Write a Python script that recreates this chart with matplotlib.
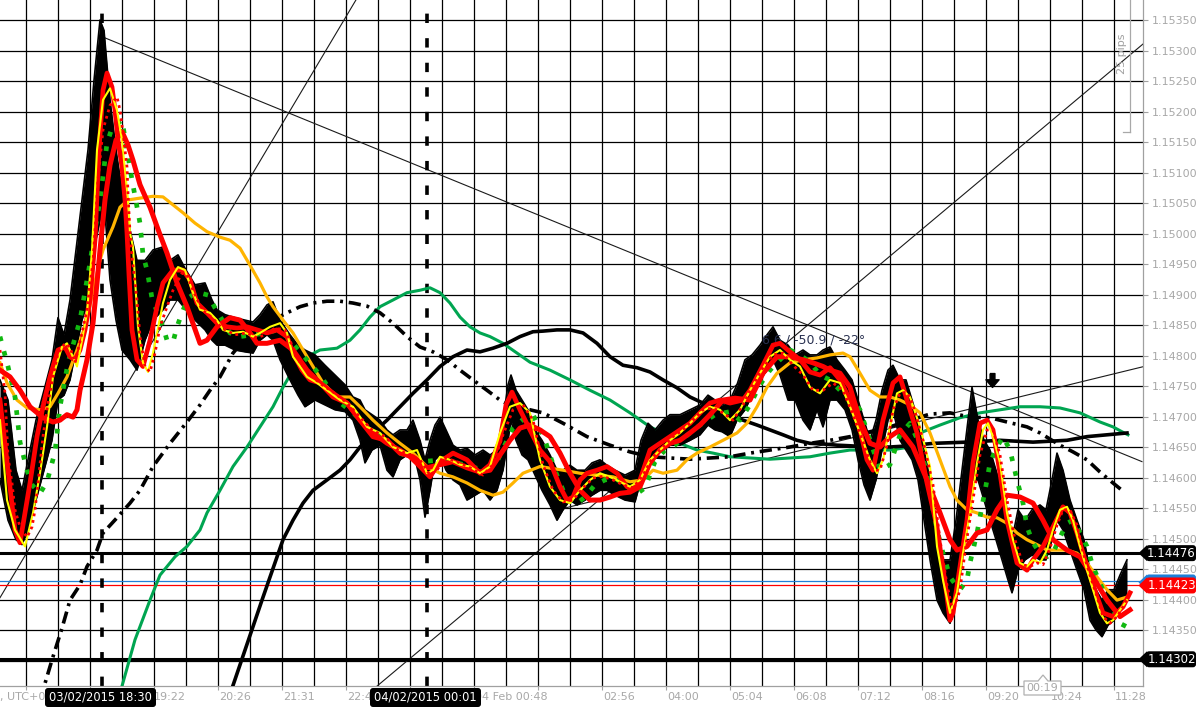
import matplotlib
matplotlib.use("Agg")
import matplotlib.pyplot as plt
from matplotlib.patches import FancyBboxPatch, Polygon
from matplotlib.lines import Line2D
from matplotlib.path import Path
from matplotlib.transforms import IdentityTransform, blended_transform_factory, Bbox

# ---------------- data (time = M1 bar index from the left edge, price = EURUSD) -------------
PRICE_BARS = [  # (t, high, low)
    (0, 1.14760, 1.14596), (8, 1.14727, 1.14530), (16, 1.14612, 1.14498), (22, 1.14579, 1.14490),
    (28, 1.14629, 1.14514), (36, 1.14694, 1.14563), (44, 1.14743, 1.14612), (52, 1.14793, 1.14661),
    (58, 1.14862, 1.14727), (64, 1.14834, 1.14735), (70, 1.14891, 1.14760), (76, 1.14973, 1.14809),
    (82, 1.15055, 1.14858), (88, 1.15137, 1.14891), (94, 1.15251, 1.14973), (100, 1.15350, 1.15022),
    (104, 1.15333, 1.15055), (110, 1.15219, 1.14924), (116, 1.15137, 1.14858), (122, 1.15071, 1.14809),
    (130, 1.15006, 1.14793), (137, 1.14956, 1.14776), (145, 1.14956, 1.14825), (153, 1.14973, 1.14858),
    (163, 1.14978, 1.14875), (170, 1.14956, 1.14891), (178, 1.14965, 1.14891), (186, 1.14940, 1.14875),
    (195, 1.14916, 1.14858), (205, 1.14919, 1.14842), (212, 1.14891, 1.14825), (217, 1.14875, 1.14817),
    (225, 1.14867, 1.14817), (235, 1.14862, 1.14809), (245, 1.14858, 1.14806), (253, 1.14855, 1.14804),
    (260, 1.14867, 1.14825), (267, 1.14883, 1.14834), (273, 1.14888, 1.14825), (280, 1.14858, 1.14793),
    (290, 1.14834, 1.14760), (298, 1.14817, 1.14735), (305, 1.14809, 1.14716), (315, 1.14801, 1.14727),
    (325, 1.14784, 1.14719), (335, 1.14768, 1.14711), (345, 1.14752, 1.14708), (353, 1.14732, 1.14694),
    (360, 1.14727, 1.14661), (365, 1.14711, 1.14624), (372, 1.14703, 1.14645), (380, 1.14694, 1.14653),
    (387, 1.14678, 1.14612), (393, 1.14670, 1.14601), (400, 1.14678, 1.14629), (407, 1.14678, 1.14637),
    (413, 1.14694, 1.14645), (420, 1.14661, 1.14596), (425, 1.14629, 1.14535), (430, 1.14661, 1.14579),
    (435, 1.14686, 1.14629), (440, 1.14699, 1.14637), (446, 1.14678, 1.14612), (453, 1.14653, 1.14596),
    (460, 1.14645, 1.14588), (467, 1.14648, 1.14563), (475, 1.14637, 1.14571), (483, 1.14645, 1.14579),
    (490, 1.14637, 1.14563), (497, 1.14645, 1.14579), (503, 1.14694, 1.14612), (508, 1.14752, 1.14661),
    (511, 1.14768, 1.14694), (516, 1.14743, 1.14661), (522, 1.14727, 1.14637), (528, 1.14711, 1.14629),
    (535, 1.14678, 1.14604), (542, 1.14661, 1.14579), (550, 1.14637, 1.14555), (557, 1.14612, 1.14530),
    (563, 1.14612, 1.14547), (570, 1.14620, 1.14563), (577, 1.14612, 1.14555), (585, 1.14612, 1.14563),
    (592, 1.14624, 1.14571), (600, 1.14629, 1.14579), (607, 1.14620, 1.14579), (615, 1.14612, 1.14571),
    (625, 1.14604, 1.14563), (635, 1.14612, 1.14560), (641, 1.14661, 1.14596), (648, 1.14689, 1.14629),
    (655, 1.14678, 1.14637), (663, 1.14694, 1.14645), (670, 1.14703, 1.14653), (680, 1.14703, 1.14653),
    (690, 1.14711, 1.14661), (700, 1.14719, 1.14670), (708, 1.14735, 1.14686), (715, 1.14727, 1.14678),
    (722, 1.14719, 1.14675), (730, 1.14727, 1.14667), (737, 1.14752, 1.14694), (745, 1.14793, 1.14711),
    (752, 1.14801, 1.14735), (760, 1.14817, 1.14760), (767, 1.14834, 1.14776), (773, 1.14847, 1.14793),
    (780, 1.14825, 1.14768), (788, 1.14817, 1.14727), (795, 1.14801, 1.14727), (803, 1.14809, 1.14694),
    (810, 1.14801, 1.14678), (817, 1.14801, 1.14711), (823, 1.14809, 1.14683), (830, 1.14814, 1.14727),
    (837, 1.14793, 1.14727), (845, 1.14776, 1.14711), (852, 1.14760, 1.14678), (858, 1.14727, 1.14629),
    (864, 1.14694, 1.14588), (870, 1.14661, 1.14563), (876, 1.14694, 1.14596), (882, 1.14743, 1.14645),
    (888, 1.14776, 1.14694), (893, 1.14784, 1.14711), (900, 1.14760, 1.14661), (906, 1.14760, 1.14645),
    (912, 1.14727, 1.14629), (918, 1.14694, 1.14596), (924, 1.14645, 1.14530), (930, 1.14596, 1.14465),
    (937, 1.14514, 1.14399), (943, 1.14465, 1.14378), (950, 1.14465, 1.14361), (956, 1.14530, 1.14399),
    (962, 1.14612, 1.14465), (968, 1.14694, 1.14530), (972, 1.14748, 1.14596), (978, 1.14694, 1.14596),
    (984, 1.14661, 1.14563), (990, 1.14645, 1.14530), (996, 1.14612, 1.14498), (1002, 1.14579, 1.14465),
    (1008, 1.14530, 1.14432), (1012, 1.14498, 1.14411), (1018, 1.14547, 1.14448), (1025, 1.14530, 1.14465),
    (1032, 1.14547, 1.14473), (1040, 1.14555, 1.14465), (1046, 1.14547, 1.14465), (1052, 1.14596, 1.14498),
    (1057, 1.14640, 1.14530), (1063, 1.14612, 1.14514), (1070, 1.14563, 1.14481), (1077, 1.14530, 1.14448),
    (1084, 1.14498, 1.14416), (1090, 1.14448, 1.14366), (1096, 1.14416, 1.14350), (1102, 1.14399, 1.14339),
    (1108, 1.14416, 1.14358), (1114, 1.14416, 1.14366), (1120, 1.14440, 1.14383), (1127, 1.14465, 1.14399),
]

FAST_RED = [
    (0, 1.14727), (8, 1.14612), (15, 1.14514), (20, 1.14493), (30, 1.14591), (37, 1.14667), (43, 1.14716),
    (50, 1.14765), (55, 1.14793), (58, 1.14809), (65, 1.14814), (70, 1.14798), (75, 1.14793), (80, 1.14809),
    (85, 1.14842), (90, 1.14891), (95, 1.14989), (99, 1.15137), (103, 1.15235), (107, 1.15263), (112, 1.15240),
    (115, 1.15202), (118, 1.15153), (122, 1.15109), (125, 1.15055), (127, 1.15001), (129, 1.14932),
    (132, 1.14842), (137, 1.14793), (143, 1.14782), (150, 1.14825), (157, 1.14880), (163, 1.14919),
    (173, 1.14940), (183, 1.14940), (190, 1.14924), (197, 1.14886), (207, 1.14870), (217, 1.14853),
    (227, 1.14847), (237, 1.14845), (247, 1.14847), (257, 1.14842), (267, 1.14837), (277, 1.14842),
    (287, 1.14831), (293, 1.14804), (302, 1.14776), (310, 1.14760), (320, 1.14755), (333, 1.14732),
    (347, 1.14722), (360, 1.14694), (373, 1.14673), (387, 1.14656), (400, 1.14645), (410, 1.14634),
    (420, 1.14618), (430, 1.14601), (440, 1.14626), (453, 1.14640), (467, 1.14629), (480, 1.14607),
    (490, 1.14621), (500, 1.14661), (506, 1.14719), (512, 1.14740), (520, 1.14711), (530, 1.14678),
    (540, 1.14645), (550, 1.14626), (560, 1.14585), (567, 1.14563), (573, 1.14568), (580, 1.14596),
    (587, 1.14607), (597, 1.14612), (607, 1.14618), (617, 1.14607), (627, 1.14585), (633, 1.14579),
    (640, 1.14596), (650, 1.14645), (660, 1.14656), (670, 1.14667), (680, 1.14678), (690, 1.14689),
    (700, 1.14706), (710, 1.14722), (720, 1.14727), (730, 1.14722), (743, 1.14727), (750, 1.14743),
    (763, 1.14784), (773, 1.14817), (780, 1.14820), (790, 1.14806), (800, 1.14793), (810, 1.14773),
    (820, 1.14768), (830, 1.14780), (840, 1.14760), (850, 1.14727), (860, 1.14678), (867, 1.14629),
    (873, 1.14612), (883, 1.14694), (893, 1.14755), (900, 1.14765), (907, 1.14727), (917, 1.14673),
    (927, 1.14591), (937, 1.14519), (947, 1.14405), (950, 1.14366), (953, 1.14378), (960, 1.14454),
    (967, 1.14530), (973, 1.14624), (980, 1.14689), (987, 1.14694), (993, 1.14678), (1000, 1.14607),
    (1007, 1.14530), (1017, 1.14460), (1027, 1.14448), (1033, 1.14465), (1043, 1.14487), (1053, 1.14519),
    (1063, 1.14552), (1070, 1.14542), (1077, 1.14509), (1087, 1.14454), (1097, 1.14405), (1103, 1.14378),
    (1113, 1.14372), (1123, 1.14388), (1130, 1.14411),
]

SLOW_RED = [
    (0, 1.14776), (10, 1.14765), (20, 1.14743), (30, 1.14716), (43, 1.14698), (53, 1.14691), (60, 1.14694),
    (67, 1.14703), (73, 1.14699), (77, 1.14711), (80, 1.14743), (87, 1.14793), (93, 1.14853), (97, 1.14919),
    (100, 1.14973), (105, 1.15055), (110, 1.15112), (116, 1.15153), (122, 1.15167), (128, 1.15145),
    (133, 1.15120), (140, 1.15080), (150, 1.15043), (160, 1.14998), (167, 1.14968), (177, 1.14919),
    (187, 1.14880), (200, 1.14820), (207, 1.14825), (217, 1.14847), (230, 1.14862), (240, 1.14858),
    (250, 1.14837), (257, 1.14820), (267, 1.14820), (280, 1.14825), (293, 1.14809), (307, 1.14776),
    (320, 1.14755), (333, 1.14738), (347, 1.14722), (360, 1.14694), (373, 1.14667), (387, 1.14661),
    (400, 1.14640), (413, 1.14634), (427, 1.14616), (440, 1.14621), (453, 1.14626), (467, 1.14616),
    (480, 1.14609), (490, 1.14612), (500, 1.14637), (510, 1.14661), (520, 1.14681), (530, 1.14686),
    (540, 1.14678), (550, 1.14667), (560, 1.14640), (570, 1.14607), (580, 1.14579), (590, 1.14563),
    (600, 1.14563), (610, 1.14568), (620, 1.14574), (630, 1.14576), (640, 1.14585), (650, 1.14624),
    (660, 1.14645), (670, 1.14656), (680, 1.14661), (690, 1.14673), (700, 1.14686), (710, 1.14703),
    (723, 1.14727), (735, 1.14730), (750, 1.14727), (763, 1.14771), (777, 1.14798), (790, 1.14798),
    (803, 1.14793), (813, 1.14788), (823, 1.14782), (830, 1.14776), (840, 1.14771), (850, 1.14748),
    (860, 1.14694), (870, 1.14656), (880, 1.14650), (890, 1.14667), (900, 1.14678), (913, 1.14650),
    (927, 1.14596), (940, 1.14542), (950, 1.14498), (957, 1.14481), (967, 1.14487), (977, 1.14509),
    (987, 1.14514), (997, 1.14547), (1007, 1.14571), (1020, 1.14568), (1033, 1.14558), (1043, 1.14530),
    (1053, 1.14498), (1067, 1.14481), (1080, 1.14470), (1093, 1.14437), (1107, 1.14399), (1120, 1.14372),
    (1130, 1.14383),
]

YELLOW = [
    (0, 1.14694), (7, 1.14563), (15, 1.14514), (25, 1.14487), (33, 1.14542), (40, 1.14607), (47, 1.14683),
    (53, 1.14765), (62, 1.14814), (67, 1.14820), (72, 1.14801), (77, 1.14782), (82, 1.14825), (87, 1.14870),
    (92, 1.14973), (97, 1.15137), (103, 1.15219), (110, 1.15238), (117, 1.15202), (122, 1.15153),
    (128, 1.15055), (130, 1.15001), (133, 1.14978), (138, 1.14847), (143, 1.14788), (148, 1.14773),
    (153, 1.14804), (163, 1.14886), (170, 1.14924), (178, 1.14945), (185, 1.14940), (192, 1.14907),
    (200, 1.14875), (210, 1.14870), (217, 1.14858), (223, 1.14842), (233, 1.14837), (243, 1.14839),
    (253, 1.14831), (260, 1.14837), (270, 1.14847), (280, 1.14853), (287, 1.14837), (293, 1.14798),
    (300, 1.14782), (307, 1.14765), (317, 1.14755), (327, 1.14743), (340, 1.14727), (353, 1.14716),
    (367, 1.14683), (380, 1.14673), (393, 1.14650), (407, 1.14640), (417, 1.14645), (427, 1.14607),
    (433, 1.14612), (440, 1.14634), (450, 1.14629), (460, 1.14621), (470, 1.14618), (480, 1.14607),
    (490, 1.14618), (500, 1.14673), (510, 1.14716), (520, 1.14722), (530, 1.14706), (540, 1.14629),
    (550, 1.14585), (560, 1.14563), (570, 1.14558), (580, 1.14579), (590, 1.14596), (600, 1.14607),
    (610, 1.14601), (620, 1.14593), (630, 1.14585), (640, 1.14596), (650, 1.14629), (660, 1.14645),
    (670, 1.14661), (680, 1.14673), (690, 1.14689), (700, 1.14706), (710, 1.14716), (720, 1.14711),
    (730, 1.14694), (740, 1.14711), (750, 1.14743), (760, 1.14771), (770, 1.14798), (780, 1.14809),
    (790, 1.14793), (800, 1.14782), (810, 1.14748), (820, 1.14738), (830, 1.14760), (840, 1.14755),
    (850, 1.14716), (860, 1.14673), (870, 1.14629), (877, 1.14607), (883, 1.14629), (890, 1.14683),
    (897, 1.14738), (903, 1.14743), (910, 1.14732), (920, 1.14683), (930, 1.14618), (937, 1.14487),
    (943, 1.14432), (950, 1.14378), (957, 1.14411), (963, 1.14476), (970, 1.14542), (977, 1.14624),
    (983, 1.14678), (988, 1.14689), (993, 1.14667), (1000, 1.14624), (1007, 1.14542), (1013, 1.14498),
    (1020, 1.14460), (1027, 1.14454), (1033, 1.14465), (1040, 1.14460), (1047, 1.14481), (1053, 1.14514),
    (1060, 1.14547), (1067, 1.14552), (1073, 1.14530), (1080, 1.14487), (1087, 1.14448), (1093, 1.14416),
    (1100, 1.14378), (1107, 1.14361), (1113, 1.14366), (1120, 1.14383), (1127, 1.14399),
]

RED_DOTTED = [
    (0, 1.14809), (5, 1.14738), (8, 1.14634), (12, 1.14591), (15, 1.14547), (20, 1.14519), (27, 1.14502),
    (32, 1.14519), (35, 1.14547), (38, 1.14591), (43, 1.14667), (48, 1.14722), (53, 1.14765), (58, 1.14804),
    (65, 1.14820), (70, 1.14814), (75, 1.14788), (78, 1.14809), (82, 1.14837), (87, 1.14875), (90, 1.14919),
    (93, 1.14952), (98, 1.15088), (103, 1.15170), (110, 1.15210), (117, 1.15224), (120, 1.15202),
    (123, 1.15165), (127, 1.15109), (128, 1.15066), (130, 1.15001), (132, 1.14962), (137, 1.14891),
    (140, 1.14831), (145, 1.14782), (150, 1.14773), (155, 1.14804), (160, 1.14847), (167, 1.14880),
    (173, 1.14907), (182, 1.14935), (187, 1.14932), (193, 1.14907), (202, 1.14875), (212, 1.14862),
    (222, 1.14845), (235, 1.14834), (247, 1.14837), (257, 1.14829), (265, 1.14834), (275, 1.14845),
    (285, 1.14842), (292, 1.14817), (300, 1.14789), (310, 1.14768), (322, 1.14752), (335, 1.14738),
    (347, 1.14722), (360, 1.14699), (372, 1.14678), (385, 1.14667), (398, 1.14645), (410, 1.14637),
    (420, 1.14629), (430, 1.14604), (437, 1.14612), (445, 1.14632), (457, 1.14626), (470, 1.14616),
    (483, 1.14604), (493, 1.14621), (503, 1.14670), (513, 1.14711), (523, 1.14719), (533, 1.14694),
    (543, 1.14621), (553, 1.14579), (563, 1.14560), (573, 1.14563), (583, 1.14583), (593, 1.14599),
    (603, 1.14602), (613, 1.14596), (623, 1.14588), (633, 1.14583), (643, 1.14604), (653, 1.14634),
    (663, 1.14650), (673, 1.14667), (683, 1.14678), (693, 1.14694), (703, 1.14711), (713, 1.14714),
    (723, 1.14706), (733, 1.14694), (743, 1.14719), (753, 1.14752), (763, 1.14780), (773, 1.14801),
    (783, 1.14804), (793, 1.14784), (803, 1.14768), (813, 1.14743), (823, 1.14743), (833, 1.14755),
    (843, 1.14743), (853, 1.14703), (863, 1.14658), (873, 1.14612), (880, 1.14612), (887, 1.14653),
    (893, 1.14711), (900, 1.14738), (907, 1.14740), (913, 1.14719), (923, 1.14661), (933, 1.14588),
    (940, 1.14498), (947, 1.14424), (953, 1.14380), (960, 1.14416), (966, 1.14490), (973, 1.14563),
    (980, 1.14637), (987, 1.14678), (993, 1.14678), (1000, 1.14637), (1007, 1.14563), (1015, 1.14498),
    (1023, 1.14457), (1030, 1.14454), (1037, 1.14460), (1043, 1.14457), (1050, 1.14484), (1057, 1.14522),
    (1063, 1.14547), (1070, 1.14547), (1077, 1.14522), (1083, 1.14478), (1090, 1.14440), (1097, 1.14405),
    (1103, 1.14372), (1110, 1.14361), (1117, 1.14372), (1123, 1.14388), (1128, 1.14404),
]

GREEN_DOTTED = [
    (0, 1.14831), (8, 1.14782), (15, 1.14732), (20, 1.14658), (27, 1.14612), (32, 1.14588), (40, 1.14574),
    (47, 1.14593), (55, 1.14642), (60, 1.14716), (68, 1.14788), (80, 1.14858), (90, 1.14952), (95, 1.15006),
    (100, 1.15055), (107, 1.15148), (112, 1.15173), (122, 1.15186), (132, 1.15088), (140, 1.15017),
    (143, 1.14965), (147, 1.14940), (152, 1.14894), (157, 1.14872), (163, 1.14847), (167, 1.14825),
    (173, 1.14822), (177, 1.14847), (182, 1.14870), (188, 1.14894), (197, 1.14904), (208, 1.14899),
    (215, 1.14878), (230, 1.14837), (240, 1.14831), (253, 1.14834), (267, 1.14837), (277, 1.14842),
    (287, 1.14831), (300, 1.14806), (320, 1.14768), (337, 1.14727), (355, 1.14703), (370, 1.14678),
    (385, 1.14661), (400, 1.14640), (420, 1.14626), (445, 1.14629), (457, 1.14624), (470, 1.14618),
    (485, 1.14612), (497, 1.14626), (507, 1.14661), (513, 1.14681), (525, 1.14698), (533, 1.14703),
    (545, 1.14661), (555, 1.14612), (565, 1.14571), (575, 1.14555), (585, 1.14568), (595, 1.14588),
    (605, 1.14596), (615, 1.14599), (625, 1.14588), (635, 1.14571), (645, 1.14583), (655, 1.14626),
    (665, 1.14645), (675, 1.14653), (690, 1.14673), (700, 1.14686), (715, 1.14703), (730, 1.14708),
    (740, 1.14694), (750, 1.14719), (760, 1.14752), (770, 1.14776), (780, 1.14793), (790, 1.14809),
    (800, 1.14801), (810, 1.14789), (820, 1.14768), (830, 1.14760), (840, 1.14743), (850, 1.14735),
    (860, 1.14711), (870, 1.14661), (880, 1.14612), (890, 1.14621), (900, 1.14670), (910, 1.14689),
    (920, 1.14653), (927, 1.14604), (933, 1.14547), (937, 1.14514), (943, 1.14476), (950, 1.14437),
    (957, 1.14421), (960, 1.14416), (967, 1.14432), (970, 1.14460), (977, 1.14509), (987, 1.14596),
    (990, 1.14624), (997, 1.14650), (1003, 1.14667), (1010, 1.14645), (1013, 1.14624), (1017, 1.14596),
    (1023, 1.14558), (1027, 1.14519), (1033, 1.14493), (1040, 1.14476), (1047, 1.14470), (1053, 1.14476),
    (1060, 1.14502), (1067, 1.14525), (1073, 1.14530), (1080, 1.14509), (1087, 1.14487), (1093, 1.14454),
    (1100, 1.14427), (1107, 1.14399), (1113, 1.14383), (1120, 1.14361), (1127, 1.14355),
]

ORANGE = [
    (0, 1.14788), (7, 1.14755), (17, 1.14727), (27, 1.14714), (40, 1.14711), (50, 1.14716), (58, 1.14738),
    (67, 1.14765), (77, 1.14809), (87, 1.14858), (93, 1.14907), (100, 1.14956), (103, 1.14973),
    (113, 1.15011), (120, 1.15043), (128, 1.15055), (140, 1.15058), (153, 1.15061), (163, 1.15060),
    (173, 1.15047), (183, 1.15034), (195, 1.15017), (207, 1.15003), (220, 1.14994), (230, 1.14989),
    (240, 1.14976), (250, 1.14948), (260, 1.14919), (267, 1.14896), (273, 1.14880), (283, 1.14858),
    (293, 1.14837), (303, 1.14809), (313, 1.14782), (323, 1.14755), (337, 1.14732), (350, 1.14732),
    (360, 1.14716), (373, 1.14694), (387, 1.14673), (400, 1.14656), (413, 1.14640), (427, 1.14618),
    (440, 1.14607), (453, 1.14601), (467, 1.14591), (480, 1.14579), (493, 1.14571), (503, 1.14576),
    (513, 1.14591), (523, 1.14607), (540, 1.14618), (563, 1.14612), (580, 1.14607), (597, 1.14604),
    (613, 1.14601), (630, 1.14593), (643, 1.14596), (653, 1.14612), (663, 1.14607), (677, 1.14612),
    (687, 1.14629), (697, 1.14640), (710, 1.14650), (723, 1.14661), (737, 1.14673), (747, 1.14689),
    (757, 1.14716), (767, 1.14748), (777, 1.14771), (790, 1.14788), (803, 1.14793), (817, 1.14796),
    (830, 1.14801), (843, 1.14804), (850, 1.14798), (860, 1.14771), (870, 1.14743), (880, 1.14732),
    (890, 1.14732), (900, 1.14727), (910, 1.14719), (920, 1.14706), (930, 1.14673), (940, 1.14629),
    (950, 1.14585), (957, 1.14563), (967, 1.14547), (977, 1.14542), (987, 1.14535), (997, 1.14534),
    (1007, 1.14525), (1017, 1.14509), (1027, 1.14498), (1037, 1.14490), (1047, 1.14481), (1057, 1.14481),
    (1067, 1.14481), (1077, 1.14476), (1087, 1.14460), (1097, 1.14437), (1107, 1.14416), (1117, 1.14399),
    (1127, 1.14404),
]

GREEN = [
    (115, 1.14219), (122, 1.14258), (135, 1.14334), (150, 1.14399), (160, 1.14440), (175, 1.14470),
    (187, 1.14487), (200, 1.14514), (207, 1.14542), (220, 1.14579), (233, 1.14618), (247, 1.14650),
    (260, 1.14683), (273, 1.14716), (283, 1.14748), (293, 1.14776), (307, 1.14798), (320, 1.14809),
    (337, 1.14812), (350, 1.14825), (360, 1.14842), (370, 1.14863), (380, 1.14880), (393, 1.14891),
    (407, 1.14903), (420, 1.14907), (430, 1.14911), (440, 1.14903), (450, 1.14886), (460, 1.14863),
    (470, 1.14847), (480, 1.14837), (490, 1.14831), (503, 1.14820), (517, 1.14804), (530, 1.14789),
    (550, 1.14776), (570, 1.14760), (590, 1.14743), (610, 1.14727), (630, 1.14706), (650, 1.14683),
    (663, 1.14673), (680, 1.14656), (697, 1.14645), (713, 1.14640), (730, 1.14634), (750, 1.14632),
    (770, 1.14630), (790, 1.14632), (810, 1.14634), (830, 1.14640), (850, 1.14645), (870, 1.14645),
    (890, 1.14645), (910, 1.14650), (920, 1.14673), (940, 1.14686), (960, 1.14698), (980, 1.14706),
    (1000, 1.14711), (1020, 1.14716), (1040, 1.14716), (1060, 1.14714), (1080, 1.14706), (1100, 1.14691),
    (1113, 1.14683), (1122, 1.14675), (1128, 1.14670),
]

BLACK_MA = [
    (228, 1.14235), (245, 1.14317), (262, 1.14399), (283, 1.14498), (293, 1.14530), (303, 1.14558),
    (313, 1.14579), (327, 1.14596), (340, 1.14612), (350, 1.14629), (360, 1.14650), (373, 1.14673),
    (387, 1.14694), (400, 1.14716), (413, 1.14738), (427, 1.14760), (440, 1.14782), (453, 1.14798),
    (467, 1.14809), (480, 1.14806), (493, 1.14812), (507, 1.14820), (520, 1.14831), (533, 1.14839),
    (543, 1.14840), (557, 1.14842), (570, 1.14842), (583, 1.14837), (597, 1.14820), (610, 1.14798),
    (623, 1.14784), (637, 1.14780), (650, 1.14773), (663, 1.14760), (677, 1.14747), (690, 1.14732),
    (703, 1.14722), (717, 1.14711), (730, 1.14703), (743, 1.14694), (757, 1.14686), (770, 1.14678),
    (783, 1.14670), (797, 1.14661), (810, 1.14656), (823, 1.14655), (837, 1.14653), (850, 1.14652),
    (870, 1.14650), (890, 1.14650), (910, 1.14652), (933, 1.14656), (967, 1.14658), (1000, 1.14661),
    (1033, 1.14658), (1067, 1.14661), (1087, 1.14667), (1107, 1.14670), (1127, 1.14673),
]

DASH_DOT = [
    (40, 1.14235), (52, 1.14301), (62, 1.14353), (70, 1.14399), (80, 1.14424), (87, 1.14454), (97, 1.14481),
    (103, 1.14509), (117, 1.14534), (130, 1.14558), (140, 1.14579), (153, 1.14618), (170, 1.14656),
    (187, 1.14691), (200, 1.14719), (210, 1.14743), (220, 1.14765), (233, 1.14804), (247, 1.14831),
    (260, 1.14847), (273, 1.14858), (287, 1.14870), (300, 1.14880), (313, 1.14886), (327, 1.14889),
    (340, 1.14889), (353, 1.14886), (367, 1.14881), (380, 1.14870), (393, 1.14853), (407, 1.14831),
    (420, 1.14814), (433, 1.14806), (447, 1.14793), (460, 1.14776), (473, 1.14760), (487, 1.14743),
    (500, 1.14727), (513, 1.14716), (530, 1.14711), (543, 1.14706), (563, 1.14689), (587, 1.14667),
    (610, 1.14653), (630, 1.14642), (650, 1.14634), (670, 1.14632), (690, 1.14630), (710, 1.14632),
    (730, 1.14634), (750, 1.14640), (770, 1.14645), (790, 1.14650), (810, 1.14656), (830, 1.14661),
    (850, 1.14667), (870, 1.14675), (890, 1.14683), (910, 1.14694), (930, 1.14704), (950, 1.14706),
    (970, 1.14699), (990, 1.14698), (1007, 1.14691), (1027, 1.14683), (1040, 1.14673), (1060, 1.14653),
    (1073, 1.14642), (1087, 1.14629), (1100, 1.14609), (1113, 1.14591), (1122, 1.14579),
]

TREND_LINES = [  # ((t0, p0), (t1, p1))
    ((103, 1.15322), (1142, 1.14626)),
    ((0, 1.14403), (356, 1.15383)),
    ((377, 1.14258), (1144, 1.15312)),
    ((565, 1.14550), (1144, 1.14782)),
]
VLINES = [(102, "03/02/2015 18:30"), (427, "04/02/2015 00:01")]
LEVELS = [1.14476, 1.14302]
BID, ASK = 1.14423, 1.14431
ANGLE_TEXT = (762, 1.14825, "6.6 / -50.9 / -22°")
ARROW_MARK = (992, 1.14760)
PRICE_TICKS = [round(1.1430 + 0.0005 * k, 5) for k in range(22)]
TIME_LABELS = [(153, "19:22"), (218, "20:26"), (282, "21:31"), (346, "22:40"), (474, "04 Feb 00:48"),
               (602, "02:56"), (666, "04:00"), (730, "05:04"), (794, "06:08"), (858, "07:12"),
               (922, "08:16"), (986, "09:20"), (1050, "10:24"), (1114, "11:28")]
COUNTDOWN = "00:19"

# ---------------- figure ----------------
W, H = 1199, 708
fig = plt.figure(figsize=(W / 100, H / 100), dpi=100)
fig.patch.set_facecolor("white")
ax = fig.add_axes([0, 22 / H, 1143 / W, 686 / H])
ax.set_facecolor("white")
ax.set_xlim(0, 1143)
ax.set_ylim(1.142582, 1.153828)

AXGRAY = "#a0a0a0"
TXTGRAY = "#a8a8a8"

# grid
for gx in range(26, 1143, 32):
    ax.axvline(gx, color="black", lw=0.9, zorder=0.5)
for py in PRICE_TICKS:
    ax.axhline(py, color="black", lw=0.9, zorder=0.5)

# spines / ticks
for s in ("top", "left"):
    ax.spines[s].set_visible(False)
for s in ("right", "bottom"):
    ax.spines[s].set_color(AXGRAY)
    ax.spines[s].set_linewidth(0.9)
ax.yaxis.tick_right()
ax.set_yticks(PRICE_TICKS)
# the 1.14300 label sits completely under the 1.14302 line tag, as in the terminal
ax.set_yticklabels(["" if abs(v - 1.1430) < 1e-9 else f"{v:.5f}" for v in PRICE_TICKS])
ax.tick_params(axis="y", length=3.5, width=0.8, color=AXGRAY, labelcolor=TXTGRAY, labelsize=8, pad=3)
ax.set_xticks(list(range(26, 1143, 64)))
ax.set_xticklabels([])
ax.tick_params(axis="x", length=3, width=0.8, color=AXGRAY)

# time labels (those under a date tag are cut off at the tag edge)
btr = blended_transform_factory(ax.transData, fig.transFigure)
date_edges = [ax.transData.transform((t, 1.145))[0] - 1.5 for t, _ in VLINES]
lab0 = ax.text(0, 11 / H, ", UTC+0", transform=btr, fontsize=8, color=TXTGRAY, ha="left", va="center")
lab0.set_clip_box(Bbox([[0, 0], [date_edges[0] - 55.5, 22]]))
lab0.set_clip_on(True)
for t, lab in TIME_LABELS:
    txt = ax.text(t + 1, 11 / H, lab, transform=btr, fontsize=8, color=TXTGRAY, ha="left", va="center")
    x0 = ax.transData.transform((t + 1, 1.145))[0]
    lo, hi = x0 - 2, 1199
    for e in date_edges:
        if e - 55.5 < x0 + 40 and x0 < e - 55.5:
            hi = e - 55.5
        if e + 55.5 > x0 and x0 > e - 55.5:
            lo = e + 55.5
    txt.set_clip_box(Bbox([[lo, 0], [hi, 22]]))
    txt.set_clip_on(True)

# trend lines
for (t0, p0), (t1, p1) in TREND_LINES:
    ax.plot([t0, t1], [p0, p1], color="#1a1a1a", lw=0.8, zorder=1)

# horizontal levels, bid / ask
for lv in LEVELS:
    ax.axhline(lv, color="black", lw=2.2, zorder=1.5)
ax.axhline(ASK, color="#1e7fd8", lw=0.9, zorder=1.5)
ax.axhline(BID, color="#ff0000", lw=0.9, zorder=1.5)

# vertical dashed lines
for t, _ in VLINES:
    ax.axvline(t, color="black", lw=2.6, linestyle=(0, (2.6, 4.2)), zorder=2)


def xs(series):
    return [a[0] for a in series]


def ys(series):
    return [a[1] for a in series]


# slow lines
ax.plot(xs(GREEN), ys(GREEN), color="#00a551", lw=2.2, zorder=3)
ax.plot(xs(BLACK_MA), ys(BLACK_MA), color="black", lw=2.6, zorder=3)
ax.plot(xs(DASH_DOT), ys(DASH_DOT), color="black", lw=2.6, linestyle=(0, (3.4, 1.6, 0.8, 1.6)), zorder=3)

# price band
pt = [b[0] for b in PRICE_BARS]
ph = [b[1] for b in PRICE_BARS]
pl = [b[2] for b in PRICE_BARS]
ax.fill_between(pt, pl, ph, color="black", lw=0, zorder=3.5)
ax.plot(pt, ph, color="black", lw=1.2, zorder=3.5)
ax.plot(pt, pl, color="black", lw=1.2, zorder=3.5)

# annotation text (over the price, under the indicator lines)
ax.text(ANGLE_TEXT[0], ANGLE_TEXT[1], ANGLE_TEXT[2], fontsize=9, color="#283050", ha="left", va="center", zorder=3.8)

# faster indicators
ax.plot(xs(ORANGE), ys(ORANGE), color="#ffb400", lw=2.3, zorder=4)
ax.plot(xs(GREEN_DOTTED), ys(GREEN_DOTTED), color="#10b810", lw=3.4, linestyle=(0, (1, 2.2)), zorder=4.5)
ax.plot(xs(SLOW_RED), ys(SLOW_RED), color="#ff0000", lw=3.6, zorder=5, solid_joinstyle="round")
ax.plot(xs(FAST_RED), ys(FAST_RED), color="#ff0000", lw=3.4, zorder=5.5, solid_joinstyle="round")
ax.plot(xs(YELLOW), ys(YELLOW), color="#ffff00", lw=1.5, zorder=6)
ax.plot(xs(RED_DOTTED), ys(RED_DOTTED), color="#ff0000", lw=2.0, linestyle=(0, (1, 1.4)), zorder=6.5)

# arrow object
arrow_path = Path([(-0.35, 1.0), (0.35, 1.0), (0.35, 0.1), (0.95, 0.1), (0.0, -1.0),
                   (-0.95, 0.1), (-0.35, 0.1), (-0.35, 1.0)])
ax.plot([ARROW_MARK[0]], [ARROW_MARK[1]], marker=arrow_path, ms=10, color="black", mec="black", zorder=8)

# ---------------- figure-level decorations (pixel coordinates) ----------------
ID = IdentityTransform()


def price_tag(price, face, label, dy=0.0, z=6):
    y = ax.transData.transform((0, price))[1] + dy
    body = FancyBboxPatch((1146, y - 8), 50, 16, boxstyle="round,pad=0,rounding_size=3",
                          transform=ID, facecolor=face, edgecolor=face, lw=0, zorder=z)
    tip = Polygon([(1138.5, y), (1147, y + 8), (1147, y - 8)], closed=True,
                  transform=ID, facecolor=face, edgecolor=face, lw=0, zorder=z)
    fig.add_artist(body)
    fig.add_artist(tip)
    if label:
        fig.text(1171.5 / W, y / H, label, color="white", fontsize=8.5, ha="center", va="center", zorder=z + 0.5)


price_tag(LEVELS[0], "black", f"{LEVELS[0]:.5f}")
price_tag(LEVELS[1], "black", f"{LEVELS[1]:.5f}")
price_tag(BID, "#1e7fd8", "", dy=3, z=6)
price_tag(BID, "#ff0000", f"{BID:.5f}", z=6.2)

# date tags under vertical lines
for (t, lab), xc in zip(VLINES, date_edges):
    box = FancyBboxPatch((xc - 55.5, 1), 111, 19, boxstyle="round,pad=0,rounding_size=3",
                         transform=ID, facecolor="black", edgecolor="black", lw=0, zorder=6)
    fig.add_artist(box)
    fig.text(xc / W, 10.5 / H, lab, color="white", fontsize=8.3, ha="center", va="center", zorder=6.5)

# countdown box
cd = Polygon([(1024, 13), (1061, 13), (1061, 27), (1048, 27), (1043, 33), (1038, 27), (1024, 27)],
             closed=True, transform=ID, facecolor="white", edgecolor="#b0b0b0", lw=0.9, zorder=6)
fig.add_artist(cd)
fig.text(1042.5 / W, 20 / H, COUNTDOWN, color=TXTGRAY, fontsize=8, ha="center", va="center", zorder=6.5)

# 25 pips ruler
fig.add_artist(Line2D([1130, 1130], [708, 576], transform=ID, color="#a8a8a8", lw=0.9, zorder=6))
fig.add_artist(Line2D([1123, 1130], [576, 576], transform=ID, color="#a8a8a8", lw=0.9, zorder=6))
fig.text(1122 / W, 654 / H, "25 pips", rotation=90, color="#a0a0a0", fontsize=8, ha="center", va="center", zorder=6)

fig.savefig("out.png", dpi=100, facecolor="white")
